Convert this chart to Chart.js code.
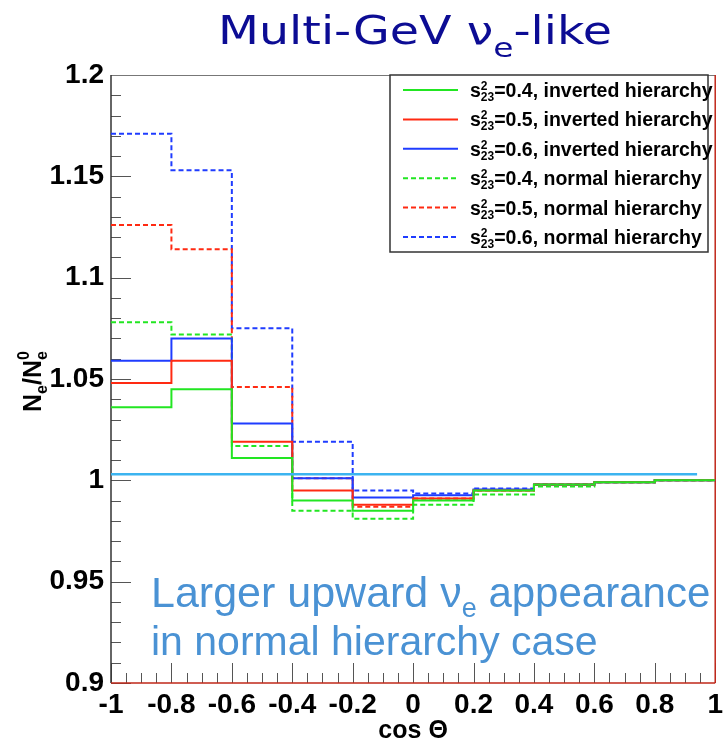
<!DOCTYPE html>
<html lang="en">
<head>
<meta charset="UTF-8" />
<title>Multi-GeV νe-like</title>
<script src="https://cdn.jsdelivr.net/npm/chart.js"></script>
<style>
  html, body { margin: 0; padding: 0; background: #fff; }
  canvas { display: block; }
</style>
</head>
<body>
<canvas id="ratioChart" width="728" height="747"></canvas>
<script>
// bin edges in cos(theta)
const binEdges = [-1, -0.8, -0.6, -0.4, -0.2, 0, 0.2, 0.4, 0.6, 0.8, 1];

// N_e / N_e^0 per bin
const ih04 = [1.036, 1.045, 1.011, 0.990, 0.985, 0.990, 0.995, 0.998, 0.999, 1.000];
const ih05 = [1.048, 1.059, 1.019, 0.995, 0.988, 0.991, 0.995, 0.998, 0.999, 1.000];
const ih06 = [1.059, 1.070, 1.028, 1.001, 0.9915, 0.9926, 0.9955, 0.998, 0.999, 1.000];
const nh04 = [1.078, 1.072, 1.017, 0.985, 0.981, 0.988, 0.993, 0.997, 0.999, 1.000];
const nh05 = [1.126, 1.114, 1.046, 1.001, 0.987, 0.991, 0.995, 0.998, 0.999, 1.000];
const nh06 = [1.171, 1.153, 1.075, 1.019, 0.995, 0.9935, 0.996, 0.998, 0.999, 1.000];

const sin2Labels = ['0.4', '0.5', '0.6', '0.4', '0.5', '0.6'];
const hierLabels = ['inverted hierarchy', 'inverted hierarchy', 'inverted hierarchy',
                    'normal hierarchy', 'normal hierarchy', 'normal hierarchy'];

// reference line
const refLineX = [-1, 0.94];
const refLineY = [1.003, 1.003];

const GREEN = '#22e622', RED = '#ff2a12', BLUE = '#1f3cff';

function toSteps(vals) {
  return binEdges.map((x, i) => ({ x: x, y: vals[Math.min(i, vals.length - 1)] }));
}

function histo(vals, color, dashed) {
  return {
    data: toSteps(vals),
    borderColor: color,
    borderWidth: 2,
    borderDash: dashed ? [5, 3] : [],
    stepped: 'before',
    pointRadius: 0,
    fill: false
  };
}

const datasets = [
  {
    data: refLineX.map((x, i) => ({ x: x, y: refLineY[i] })),
    borderColor: '#3cb4f0',
    borderWidth: 2.5,
    pointRadius: 0,
    fill: false
  },
  histo(ih04, GREEN, false),
  histo(ih05, RED, false),
  histo(ih06, BLUE, false),
  histo(nh04, GREEN, true),
  histo(nh05, RED, true),
  histo(nh06, BLUE, true)
];

// draws text pieces one after another (for sub/superscripts)
function drawRich(ctx, x, y, parts, measureOnly) {
  const x0 = x;
  parts.forEach(p => {
    ctx.font = p.font;
    if (p.stack) {
      let w = 0;
      p.stack.forEach(s => {
        ctx.font = s.font;
        if (!measureOnly) ctx.fillText(s.t, x, y + s.dy);
        w = Math.max(w, ctx.measureText(s.t).width);
      });
      x += w;
    } else {
      if (!measureOnly) ctx.fillText(p.t, x, y + (p.dy || 0));
      x += ctx.measureText(p.t).width;
    }
  });
  return x - x0;
}

const framePlugin = {
  id: 'frame',
  beforeDatasetsDraw(chart) {
    const ctx = chart.ctx, a = chart.chartArea;
    const xs = chart.scales.x, ys = chart.scales.y;
    ctx.save();
    // inward ticks
    ctx.strokeStyle = '#555';
    ctx.lineWidth = 1;
    ctx.beginPath();
    for (let k = 0; k <= 30; k++) {
      const v = ys.min + k * 0.01;
      const py = Math.round(ys.getPixelForValue(v)) + 0.5;
      const len = k % 5 === 0 ? 20 : 10;
      ctx.moveTo(a.left, py);
      ctx.lineTo(a.left + len, py);
    }
    for (let k = 0; k <= 40; k++) {
      const v = xs.min + k * 0.05;
      const px = Math.round(xs.getPixelForValue(v)) + 0.5;
      const len = k % 4 === 0 ? 20 : 10;
      ctx.moveTo(px, a.bottom);
      ctx.lineTo(px, a.bottom - len);
    }
    ctx.stroke();
    // frame
    ctx.lineWidth = 1;
    ctx.strokeStyle = '#777';
    ctx.beginPath();
    ctx.moveTo(a.left, a.top + 0.5);
    ctx.lineTo(a.right, a.top + 0.5);
    ctx.stroke();
    ctx.lineWidth = 1.5;
    ctx.strokeStyle = '#333';
    ctx.beginPath();
    ctx.moveTo(a.left, a.top);
    ctx.lineTo(a.left, a.bottom);
    ctx.stroke();
    ctx.strokeStyle = '#c0281a';
    ctx.beginPath();
    ctx.moveTo(a.left, a.bottom);
    ctx.lineTo(a.right, a.bottom);
    ctx.moveTo(a.right, a.bottom);
    ctx.lineTo(a.right, a.top);
    ctx.stroke();
    ctx.restore();
  },
  afterDraw(chart) {
    const ctx = chart.ctx;
    ctx.save();
    ctx.textBaseline = 'alphabetic';
    ctx.textAlign = 'left';

    // title, stretched to span 218..612 like the slide text
    const titleParts = [
      { t: 'Multi-GeV ', font: '39px "DejaVu Sans"' },
      { t: 'ν', font: '39px "DejaVu Sans"' },
      { t: 'e', font: '27px "DejaVu Sans"', dy: 13 },
      { t: '-like', font: '39px "DejaVu Sans"' }
    ];
    const tw = drawRich(ctx, 0, 0, titleParts, true);
    ctx.fillStyle = '#0c0c94';
    ctx.save();
    ctx.translate(218, 44);
    ctx.scale(394 / tw, 1);
    drawRich(ctx, 0, 0, titleParts);
    ctx.restore();

    // y title, rotated
    ctx.fillStyle = '#000';
    ctx.save();
    ctx.translate(41, 412);
    ctx.rotate(-Math.PI / 2);
    drawRich(ctx, 0, 0, [
      { t: 'N', font: 'bold 25px "Liberation Sans"' },
      { t: 'e', font: 'bold 16px "Liberation Sans"', dy: 6 },
      { t: '/N', font: 'bold 25px "Liberation Sans"' },
      { stack: [
        { t: 'e', font: 'bold 16px "Liberation Sans"', dy: 6 },
        { t: '0', font: 'bold 16px "Liberation Sans"', dy: -12 }
      ] }
    ]);
    ctx.restore();

    // annotation
    ctx.fillStyle = '#4a92d4';
    drawRich(ctx, 151, 607, [
      { t: 'Larger upward ', font: '43px "Liberation Sans"' },
      { t: 'ν', font: '43px "Liberation Sans"' },
      { t: 'e', font: '27px "Liberation Sans"', dy: 10 },
      { t: ' appearance', font: '42px "Liberation Sans"' }
    ]);
    drawRich(ctx, 151, 655, [
      { t: 'in normal hierarchy case', font: '41px "Liberation Sans"' }
    ]);

    // legend
    const lx = 390, ly = 75, lw = 318, lh = 177;
    ctx.fillStyle = '#fff';
    ctx.fillRect(lx, ly, lw, lh);
    ctx.strokeStyle = '#333';
    ctx.lineWidth = 1.5;
    ctx.strokeRect(lx, ly, lw, lh);
    const histos = chart.data.datasets.slice(1);
    histos.forEach((ds, i) => {
      const y = 90 + i * 29.4;
      ctx.save();
      ctx.strokeStyle = ds.borderColor;
      ctx.lineWidth = 2;
      ctx.setLineDash(ds.borderDash);
      ctx.beginPath();
      ctx.moveTo(403, y);
      ctx.lineTo(458, y);
      ctx.stroke();
      ctx.restore();
      ctx.fillStyle = '#000';
      drawRich(ctx, 470, y + 7, [
        { t: 's', font: 'bold 19.5px "Liberation Sans"' },
        { stack: [
          { t: '2', font: 'bold 12px "Liberation Sans"', dy: -7 },
          { t: '23', font: 'bold 12px "Liberation Sans"', dy: 4 }
        ] },
        { t: '=' + sin2Labels[i] + ', ' + hierLabels[i], font: 'bold 19.5px "Liberation Sans"' }
      ]);
    });
    ctx.restore();
  }
};

function fmt(v) { return String(+(+v).toFixed(2)); }

new Chart(document.getElementById('ratioChart').getContext('2d'), {
  type: 'line',
  data: { datasets: datasets },
  options: {
    responsive: false,
    animation: false,
    layout: { padding: { top: 75, right: 7, left: 0, bottom: 0 } },
    plugins: { legend: { display: false }, tooltip: { enabled: false } },
    scales: {
      x: {
        type: 'linear',
        min: -1,
        max: 1,
        grid: { display: false, drawTicks: false },
        border: { display: false },
        ticks: {
          stepSize: 0.2,
          padding: 5,
          color: '#000',
          maxRotation: 0,
          font: { family: '"Liberation Sans"', size: 28, weight: 'bold' },
          callback: fmt
        },
        title: {
          display: true,
          text: 'cos Θ',
          color: '#000',
          padding: { top: 0, bottom: 1 },
          font: { family: '"Liberation Sans"', size: 25, weight: 'bold' }
        },
        afterFit(scale) { scale.height = 64; }
      },
      y: {
        min: 0.9,
        max: 1.2,
        grid: { display: false, drawTicks: false },
        border: { display: false },
        ticks: {
          stepSize: 0.05,
          padding: 7,
          color: '#000',
          font: { family: '"Liberation Sans"', size: 28, weight: 'bold' },
          callback: fmt
        },
        afterFit(scale) { scale.width = 111; }
      }
    }
  },
  plugins: [framePlugin]
});
</script>
</body>
</html>
